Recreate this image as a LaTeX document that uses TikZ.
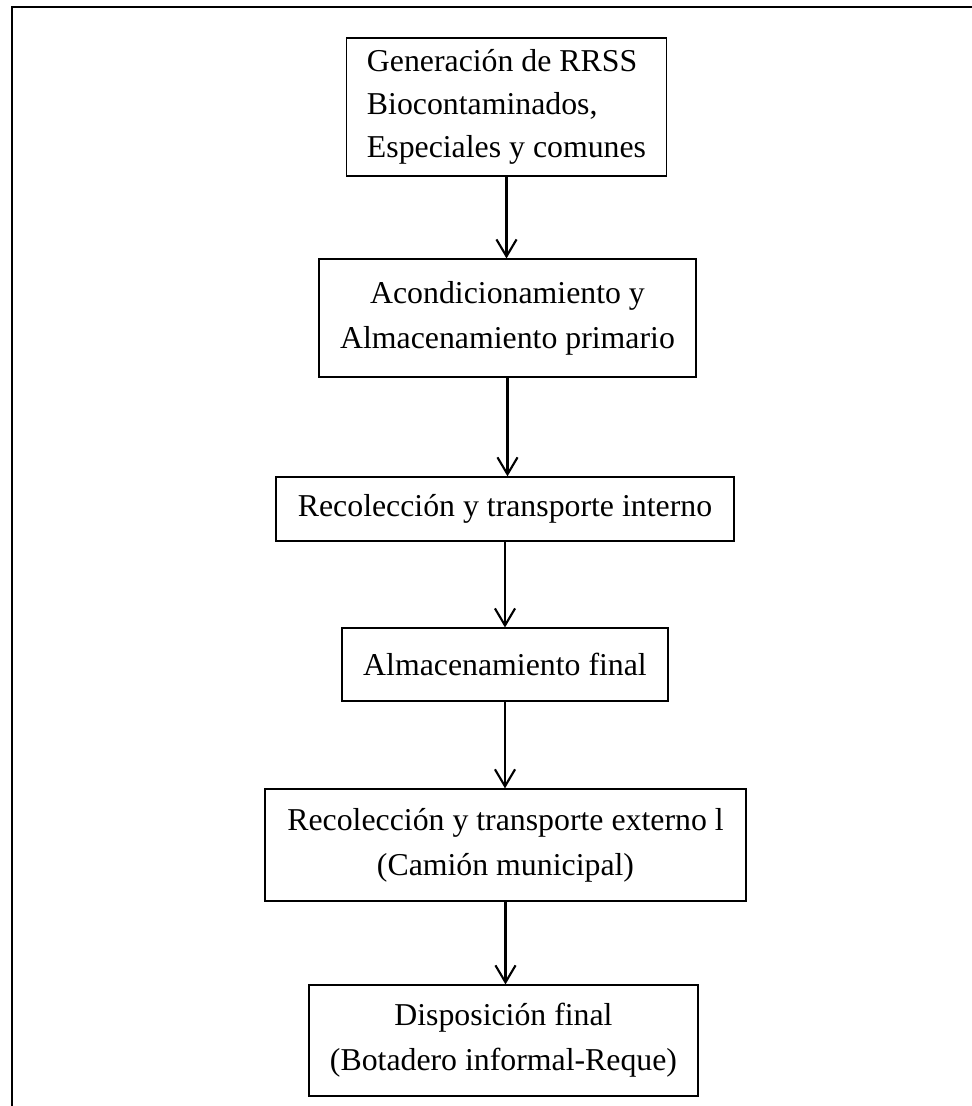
\documentclass[tikz,border=0pt]{standalone}
\usepackage{fontspec}
\setmainfont{Liberation Serif}
\usepackage{tikz}
\usetikzlibrary{arrows.meta,positioning}

\begin{document}
\begin{tikzpicture}[x=0.013265cm, y=-0.013265cm,
    caja/.style={draw, line width=0.45pt, inner sep=2pt, align=center,
                 font={\fontsize{12}{17}\selectfont}},
    flecha/.style={line width=0.8pt, -{Straight Barb[length=6.4pt,width=7.6pt,line width=0.8pt]}},
    marco/.style={line width=0.9pt}]
        \useasboundingbox (0,0) rectangle (972,1106);
        % frame (cut at right and bottom)
        \draw[marco] (12,1120) -- (12,7) -- (990,7);

        % steps
        \node[caja, align=left, minimum width=121pt, minimum height=52pt,
              font={\fontsize{12}{16.2}\selectfont}] (gen) at (506.5,107)
              {Generación de RRSS\\Biocontaminados,\\Especiales y comunes};
        \node[caja, minimum width=142.3pt, minimum height=44.5pt] (acond) at (507.5,318)
              {Acondicionamiento y\\Almacenamiento primario};
        \node[caja, minimum width=172.8pt, minimum height=24.2pt] (recint) at (505,509)
              {Recolección y transporte interno};
        \node[caja, minimum width=123pt, minimum height=27.5pt] (almfin) at (505,664.5)
              {Almacenamiento final};
        \node[caja, minimum width=181.5pt, minimum height=42.3pt] (recext) at (505.5,845)
              {Recolección y transporte externo l\\(Camión municipal)};
        \node[caja, minimum width=146.8pt, minimum height=41.9pt] (disp) at (503.5,1040.5)
              {Disposición final\\(Botadero informal-Reque)};

        \foreach \a/\b in {gen/acond, acond/recint, recint/almfin, almfin/recext, recext/disp} {
           \draw[flecha] (\a.south) -- (\a.south |- \b.north);
        }
    \end{tikzpicture}
\end{document}
